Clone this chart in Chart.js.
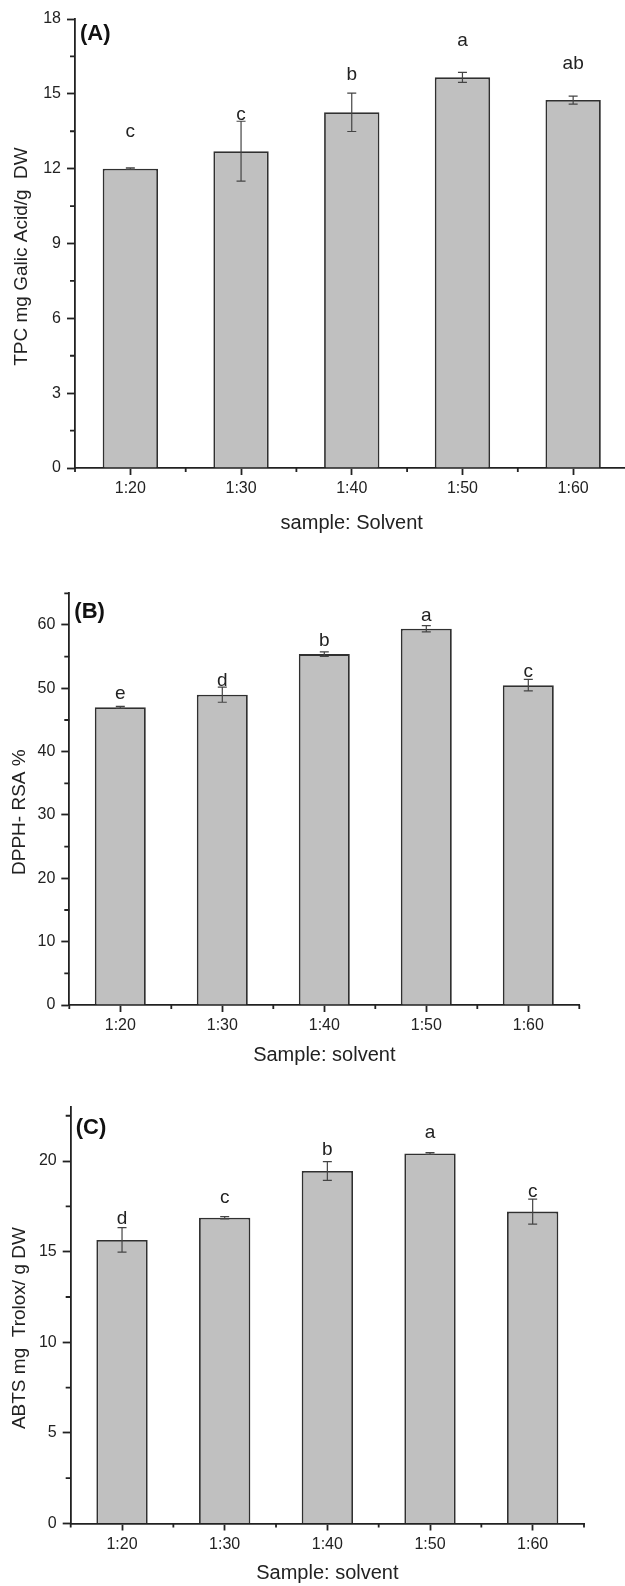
<!DOCTYPE html>
<html>
<head>
<meta charset="utf-8">
<script src="https://cdn.jsdelivr.net/npm/chart.js@4.4.1/dist/chart.umd.min.js"></script>
<style>
  html, body { margin: 0; padding: 0; background: #fff; width: 625px; height: 1586px; overflow: hidden; }
  canvas { position: absolute; left: 0; }
</style>
</head>
<body>
<canvas id="chartA" width="640" height="545" style="top:0px"></canvas>
<canvas id="chartB" width="640" height="520" style="top:560px"></canvas>
<canvas id="chartC" width="640" height="506" style="top:1080px"></canvas>
<script>
// Data
const ratios = ['1:20', '1:30', '1:40', '1:50', '1:60'];

const tpc = [12.0, 12.7, 14.26, 15.66, 14.75];
const tpcErr = [0.03, 1.2, 0.77, 0.2, 0.16];
const tpcLetters = ['c', 'c', 'b', 'a', 'ab'];
const tpcLetterY = [13.48, 14.17, 15.76, 17.13, 16.2];
const tpcTicks = [0, 3, 6, 9, 12, 15, 18];

const dpph = [47.0, 49.0, 55.4, 59.4, 50.5];
const dpphErr = [0.15, 1.2, 0.35, 0.5, 0.9];
const dpphLetters = ['e', 'd', 'b', 'a', 'c'];
const dpphLetterY = [49.1, 51.2, 57.55, 61.5, 52.65];
const dpphTicks = [0, 10, 20, 30, 40, 50, 60];

const abts = [15.65, 16.87, 19.45, 20.42, 17.21];
const abtsErr = [0.68, 0.06, 0.52, 0.05, 0.69];
const abtsLetters = ['d', 'c', 'b', 'a', 'c'];
const abtsLetterY = [16.79, 18.0, 20.6, 21.54, 18.33];
const abtsTicks = [0, 5, 10, 15, 20];

const FONT = "'Liberation Sans', Arial, sans-serif";
const INK = '#222222';

// error bars, significance letters, minor ticks, y title and panel tag
const panelDecor = {
    id: 'panelDecor',
    afterDatasetsDraw(chart, args, opts) {
        const ctx = chart.ctx;
        const x = chart.scales.x, y = chart.scales.y;
        ctx.save();
        ctx.strokeStyle = '#444';
        ctx.lineWidth = 1.2;
        opts.values.forEach((v, i) => {
            const px = x.getPixelForValue(i);
            const hi = y.getPixelForValue(v + opts.errors[i]);
            const lo = y.getPixelForValue(v - opts.errors[i]);
            ctx.beginPath();
            ctx.moveTo(px, hi); ctx.lineTo(px, lo);
            ctx.moveTo(px - 4.5, hi); ctx.lineTo(px + 4.5, hi);
            ctx.moveTo(px - 4.5, lo); ctx.lineTo(px + 4.5, lo);
            ctx.stroke();
        });
        ctx.fillStyle = INK;
        ctx.font = '19px ' + FONT;
        ctx.textAlign = 'center';
        ctx.textBaseline = 'middle';
        opts.letters.forEach((t, i) => {
            ctx.fillText(t, x.getPixelForValue(i), y.getPixelForValue(opts.letterY[i]));
        });
        ctx.restore();
    },
    afterDraw(chart, args, opts) {
        const ctx = chart.ctx;
        const x = chart.scales.x, y = chart.scales.y;
        const area = chart.chartArea;
        ctx.save();
        ctx.strokeStyle = INK;
        ctx.lineWidth = 1.8;
        ctx.beginPath();
        // minor y ticks
        for (let v = opts.minorStep; v <= y.max + 1e-9; v += opts.minorStep) {
            if (opts.majors.some(m => Math.abs(m - v) < 1e-9)) continue;
            const py = y.getPixelForValue(v);
            ctx.moveTo(area.left, py); ctx.lineTo(area.left - 5, py);
        }
        // minor x ticks at category boundaries
        for (let i = 0; i <= ratios.length; i++) {
            const px = x.getPixelForValue(i - 0.5);
            ctx.moveTo(px, area.bottom); ctx.lineTo(px, area.bottom + 4);
        }
        ctx.stroke();

        // y axis title
        ctx.fillStyle = INK;
        ctx.font = '19px ' + FONT;
        ctx.textAlign = 'center';
        ctx.textBaseline = 'middle';
        ctx.translate(opts.titleX, (area.top + area.bottom) / 2 + 13);
        ctx.rotate(-Math.PI / 2);
        ctx.fillText(opts.yTitle, 0, 0);
        ctx.restore();

        // panel tag
        ctx.save();
        ctx.fillStyle = '#111';
        ctx.font = 'bold 22px ' + FONT;
        ctx.textAlign = 'left';
        ctx.textBaseline = 'middle';
        ctx.fillText(opts.tag, area.left + 5, area.top + opts.tagDy);
        ctx.restore();
    }
};

function makePanel(id, p) {
    return new Chart(document.getElementById(id), {
        type: 'bar',
        data: {
            labels: ratios,
            datasets: [{
                data: p.values,
                backgroundColor: '#c0c0c0',
                borderColor: '#303030',
                borderWidth: 1.8,
                categoryPercentage: 1,
                barPercentage: 0.5
            }]
        },
        options: {
            responsive: false,
            animation: false,
            events: [],
            layout: { padding: { top: p.padTop, right: p.padRight, left: 0, bottom: 0 } },
            plugins: {
                legend: { display: false },
                tooltip: { enabled: false },
                panelDecor: {
                    values: p.values, errors: p.errors,
                    letters: p.letters, letterY: p.letterY,
                    majors: p.majors, minorStep: p.minorStep,
                    yTitle: p.yTitle, titleX: p.titleX,
                    tag: p.tag, tagDy: p.tagDy
                }
            },
            scales: {
                x: {
                    offset: true,
                    grid: { display: true, drawOnChartArea: false, offset: false, tickLength: 7, tickWidth: 1.8, tickColor: INK },
                    border: { display: true, color: INK, width: 1.8 },
                    ticks: { color: INK, font: { family: FONT, size: 16 }, padding: 4, maxRotation: 0 },
                    title: { display: true, text: p.xTitle, color: INK, font: { family: FONT, size: 20 }, padding: { top: 0, bottom: p.xTitlePad } },
                    afterFit: s => { s.height = p.xHeight; }
                },
                y: {
                    min: 0,
                    max: p.max,
                    grid: { display: true, drawOnChartArea: false, tickLength: 8, tickWidth: 1.8, tickColor: INK },
                    border: { display: true, color: INK, width: 1.8 },
                    ticks: { color: INK, font: { family: FONT, size: 16 }, padding: 6 },
                    afterBuildTicks: s => { s.ticks = p.majors.map(v => ({ value: v })); },
                    afterFit: s => { s.width = p.yWidth; }
                }
            }
        },
        plugins: [panelDecor]
    });
}

makePanel('chartA', {
    values: tpc, errors: tpcErr, letters: tpcLetters, letterY: tpcLetterY,
    majors: tpcTicks, minorStep: 1.5, max: 18,
    yTitle: 'TPC mg Galic Acid/g  DW', titleX: 22,
    xTitle: 'sample: Solvent', xTitlePad: 10,
    tag: '(A)', tagDy: 15,
    padTop: 19, padRight: 11.5, xHeight: 77, yWidth: 75
});

makePanel('chartB', {
    values: dpph, errors: dpphErr, letters: dpphLetters, letterY: dpphLetterY,
    majors: dpphTicks, minorStep: 5, max: 65,
    yTitle: 'DPPH- RSA %', titleX: 20,
    xTitle: 'Sample: solvent', xTitlePad: 13,
    tag: '(B)', tagDy: 18.4,
    padTop: 33.3, padRight: 60.7, xHeight: 75, yWidth: 69.3
});

makePanel('chartC', {
    values: abts, errors: abtsErr, letters: abtsLetters, letterY: abtsLetterY,
    majors: abtsTicks, minorStep: 2.5, max: 23,
    yTitle: 'ABTS mg  Trolox/ g DW', titleX: 20,
    xTitle: 'Sample: solvent', xTitlePad: 1,
    tag: '(C)', tagDy: 21.3,
    padTop: 26.7, padRight: 56, xHeight: 62.5, yWidth: 70.7
});
</script>
</body>
</html>
